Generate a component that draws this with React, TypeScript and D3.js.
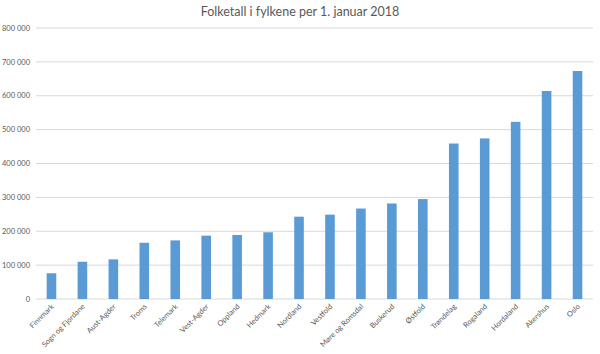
import * as d3 from 'd3';

const counties = [
  'Finnmark', 'Sogn og Fjordane', 'Aust-Agder', 'Troms', 'Telemark', 'Vest-Agder',
  'Oppland', 'Hedmark', 'Nordland', 'Vestfold', 'Møre og Romsdal', 'Buskerud',
  'Østfold', 'Trøndelag', 'Rogaland', 'Hordaland', 'Akershus', 'Oslo',
];

const population = [
  76000, 110000, 117000, 166000, 173000, 187000, 189000, 197000, 243000,
  249000, 267000, 282000, 295000, 459000, 474000, 523000, 614000, 673000,
];

const yTicks = [0, 100000, 200000, 300000, 400000, 500000, 600000, 700000, 800000];

const fmt = (v: number) => d3.format(',')(v).replace(/,/g, ' ');

export default function App() {
  const width = 600;
  const height = 354;
  const left = 36;
  const right = 593;
  const top = 28;
  const bottom = 299;

  const x = d3.scaleBand<string>().domain(counties).range([left, right]).paddingInner(0.69).paddingOuter(0.345);
  const y = d3.scaleLinear().domain([0, 800000]).range([bottom, top]);

  const font = 'Lato, "Open Sans", sans-serif';

  return (
    <svg width={width} height={height} style={{ position: 'absolute', left: 0, top: 0, background: '#fff' }}>
      <text x={width / 2} y={16} textAnchor="middle" fontFamily={font} fontSize={12.5} fill="#595959">
        Folketall i fylkene per 1. januar 2018
      </text>
      {yTicks.map((t) => (
        <g key={t}>
          <line x1={left} x2={right} y1={y(t)} y2={y(t)} stroke="#d9d9d9" strokeWidth={1} />
          <text x={30} y={y(t)} dy="0.35em" textAnchor="end" fontFamily={font} fontSize={7.5} fill="#595959">
            {fmt(t)}
          </text>
        </g>
      ))}
      {counties.map((c, i) => (
        <rect key={c} x={x(c)} y={y(population[i])} width={x.bandwidth()} height={bottom - y(population[i])} fill="#5b9bd5" />
      ))}
      {counties.map((c) => {
        const cx = (x(c) ?? 0) + x.bandwidth() / 2 + 3;
        return (
          <text key={c} transform={`translate(${cx},${bottom + 8}) rotate(-45)`} textAnchor="end" fontFamily={font} fontSize={7.5} fill="#595959">
            {c}
          </text>
        );
      })}
    </svg>
  );
}
